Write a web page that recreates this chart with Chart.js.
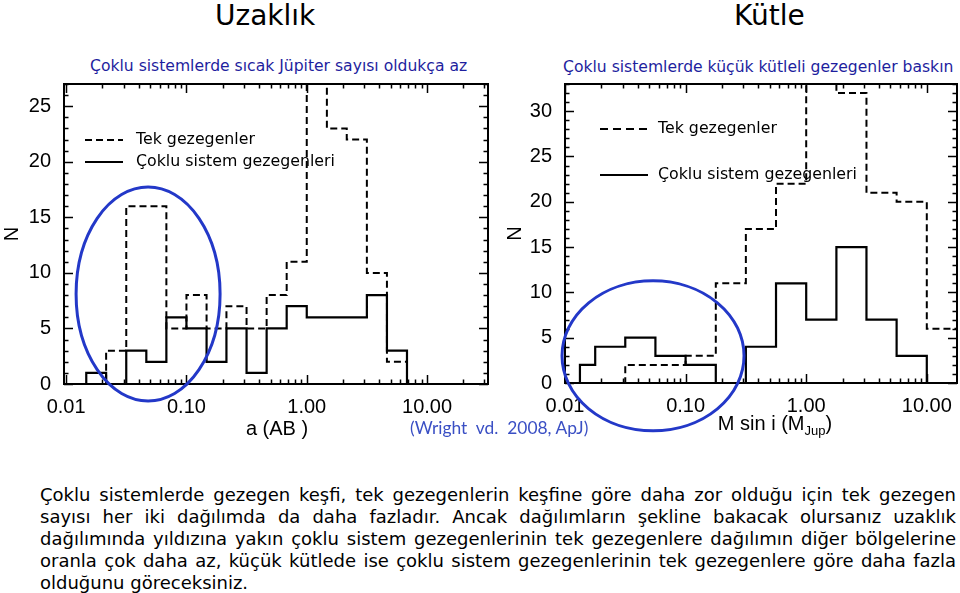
<!DOCTYPE html>
<html><head><meta charset="utf-8">
<script src="https://cdn.jsdelivr.net/npm/chart.js@4.4.0/dist/chart.umd.min.js"></script>
<style>
html,body{margin:0;padding:0;background:#fff;}
body{width:960px;height:593px;position:relative;overflow:hidden;font-family:"DejaVu Sans",sans-serif;color:#000;}
.abs{position:absolute;white-space:nowrap;}
canvas{position:absolute;top:0;}
.title{font-size:28px;line-height:32px;top:0px;}
.sub{font-size:15.6px;line-height:18px;color:#1e1e9e;}
.leg{font-size:15.8px;line-height:18px;}
.ax{font-family:"Liberation Sans",Arial,sans-serif;font-size:20px;line-height:24px;text-align:center;width:240px;}
.ax sub{font-size:13px;vertical-align:-5px;line-height:0;}
#para{position:absolute;left:40px;top:484px;width:916px;font-size:18px;line-height:22px;}
#para div{text-align:justify;text-align-last:justify;white-space:nowrap;}
#para div.last{text-align-last:left;}
</style></head><body>

<div class="abs title" style="left:215px;">Uzaklık</div>
<div class="abs title" style="left:734px;">Kütle</div>
<div class="abs sub" style="left:90px;top:57px;">Çoklu sistemlerde sıcak Jüpiter sayısı oldukça az</div>
<div class="abs sub" style="left:563px;top:58px;">Çoklu sistemlerde küçük kütleli gezegenler baskın</div>

<canvas id="c1" width="500" height="450" style="left:0;"></canvas>
<canvas id="c2" width="460" height="450" style="left:500px;"></canvas>

<svg class="abs" style="left:85px;top:138px;" width="40" height="4"><line x1="0" y1="2" x2="38" y2="2" stroke="#000" stroke-width="2" stroke-dasharray="7 4"/></svg>
<svg class="abs" style="left:85px;top:160px;" width="40" height="4"><line x1="0" y1="2" x2="38" y2="2" stroke="#000" stroke-width="2.2"/></svg>
<div class="abs leg" style="left:136px;top:130px;">Tek gezegenler</div>
<div class="abs leg" style="left:136px;top:152px;">Çoklu sistem gezegenleri</div>

<svg class="abs" style="left:600px;top:127px;" width="48" height="4"><line x1="0" y1="2" x2="47" y2="2" stroke="#000" stroke-width="2" stroke-dasharray="8 5"/></svg>
<svg class="abs" style="left:600px;top:173px;" width="50" height="4"><line x1="0" y1="2" x2="48" y2="2" stroke="#000" stroke-width="2.2"/></svg>
<div class="abs leg" style="left:658px;top:119px;">Tek gezegenler</div>
<div class="abs leg" style="left:658px;top:165px;">Çoklu sistem gezegenleri</div>

<div class="abs ax" style="left:157px;top:416px;">a (AB )</div>
<div class="abs ax" style="left:655px;top:411px;">M sin i (M<sub>Jup</sub>)</div>
<div class="abs" style="left:410px;top:417px;font-family:Lato,sans-serif;font-size:17.4px;line-height:21px;color:#3a4fc4;">(Wright&nbsp; vd.&nbsp; 2008, ApJ)</div>

<div id="para">
<div>Çoklu sistemlerde gezegen keşfi, tek gezegenlerin keşfine göre daha zor olduğu için tek gezegen</div>
<div>sayısı her iki dağılımda da daha fazladır. Ancak dağılımların şekline bakacak olursanız uzaklık</div>
<div>dağılımında yıldızına yakın çoklu sistem gezegenlerinin tek gezegenlere dağılımın diğer bölgelerine</div>
<div>oranla çok daha az, küçük kütlede ise çoklu sistem gezegenlerinin tek gezegenlere göre daha fazla</div>
<div class="last">olduğunu göreceksiniz.</div>
</div>

<script>
// ---- data ----
const distEdges  = [0.0147, 0.0215, 0.0316, 0.0464, 0.0681, 0.1, 0.147, 0.215, 0.316, 0.464, 0.681, 1.0, 1.47, 2.15, 3.16, 4.64, 6.81];
const distSingle = [0, 3, 16, 16, 5, 8, 5, 7, 5, 8, 11, 36, 23, 22, 10, 2];
const distMulti  = [1, 0, 3, 2, 6, 5, 2, 5, 1, 5, 7, 6, 6, 6, 8, 3];

const massEdges  = [0.0133, 0.0178, 0.0316, 0.0562, 0.1, 0.178, 0.316, 0.562, 1.0, 1.78, 3.16, 5.62, 10, 17.8];
const massSingle = [0, 0, 2, 2, 3, 11, 17, 22, 40, 32, 21, 20, 6];
const massMulti  = [2, 4, 5, 3, 2, 0, 4, 11, 7, 15, 7, 3, 0];

const xTickValues = [0.01, 0.1, 1, 10];
const xTickLabels = ["0.01", "0.10", "1.00", "10.00"];
const distYTicks  = [0, 5, 10, 15, 20, 25];
const massYTicks  = [0, 5, 10, 15, 20, 25, 30];

// histogram outline points from edges + counts
function histPoints(edges, counts) {
  const pts = [{x: edges[0], y: 0}];
  counts.forEach((c, i) => pts.push({x: edges[i], y: c}));
  const last = edges[edges.length - 1];
  pts.push({x: last, y: counts[counts.length - 1]});
  pts.push({x: last, y: 0});
  return pts;
}

const framePlugin = {
  id: 'frame',
  afterDraw(chart, args, opts) {
    const {ctx, chartArea: a} = chart;
    const x = chart.scales.x, y = chart.scales.y;
    ctx.save();
    ctx.setLineDash([]);
    ctx.strokeStyle = '#000';
    ctx.lineWidth = 2;
    ctx.strokeRect(a.left, a.top, a.right - a.left, a.bottom - a.top);
    ctx.lineWidth = 1.5;
    ctx.beginPath();
    const lo = Math.floor(Math.log10(x.min)), hi = Math.ceil(Math.log10(x.max));
    for (let k = lo; k <= hi; k++) {
      for (let m = 1; m <= 9; m++) {
        const v = m * Math.pow(10, k);
        if (v < x.min || v > x.max) continue;
        const px = Math.round(x.getPixelForValue(v)) + 0.5;
        const len = m === 1 ? 9 : 4.5;
        ctx.moveTo(px, a.bottom); ctx.lineTo(px, a.bottom - len);
        ctx.moveTo(px, a.top); ctx.lineTo(px, a.top + len);
      }
    }
    for (let v = Math.ceil(y.min); v <= y.max; v++) {
      const py = Math.round(y.getPixelForValue(v)) + 0.5;
      const len = v % 5 === 0 ? 9 : 4.5;
      ctx.moveTo(a.left, py); ctx.lineTo(a.left + len, py);
      ctx.moveTo(a.right, py); ctx.lineTo(a.right - len, py);
    }
    ctx.stroke();
    const e = opts.ellipse;
    ctx.strokeStyle = '#2338c8';
    ctx.lineWidth = 3;
    ctx.beginPath();
    ctx.ellipse(x.getPixelForValue(e.x), y.getPixelForValue(e.y), e.rx, e.ry, 0, 0, 2 * Math.PI);
    ctx.stroke();
    ctx.restore();
  }
};

const tickFont = {family: '"Liberation Sans", Arial, sans-serif', size: 20};

function makeChart(id, edges, single, multi, cfg) {
  return new Chart(document.getElementById(id), {
    type: 'scatter',
    data: {
      datasets: [
        {label: 'Tek gezegenler', data: histPoints(edges, single), showLine: true, stepped: 'before',
         borderColor: '#000', borderWidth: 2, borderDash: [7, 4], pointRadius: 0, fill: false},
        {label: 'Çoklu sistem gezegenleri', data: histPoints(edges, multi), showLine: true, stepped: 'before',
         borderColor: '#000', borderWidth: 2.2, pointRadius: 0, fill: false}
      ]
    },
    options: {
      responsive: false, animation: false, devicePixelRatio: 1, events: [],
      layout: {padding: cfg.padding},
      plugins: {legend: {display: false}, tooltip: {enabled: false}, frame: {ellipse: cfg.ellipse}},
      scales: {
        x: {
          type: 'logarithmic', min: cfg.xMin, max: cfg.xMax,
          grid: {display: false}, border: {display: false},
          afterBuildTicks: s => { s.ticks = xTickValues.map(v => ({value: v})); },
          ticks: {autoSkip: false, maxRotation: 0, font: tickFont, color: '#000', padding: 3,
                  callback: (v, i) => xTickLabels[i]},
          afterFit: s => { s.height = 60; }
        },
        y: {
          type: 'linear', min: 0, max: cfg.yMax,
          grid: {display: false}, border: {display: false},
          afterBuildTicks: s => { s.ticks = cfg.yTicks.map(v => ({value: v})); },
          ticks: {font: tickFont, color: '#000', padding: 5, callback: v => String(v)},
          title: {display: true, text: 'N', font: tickFont, color: '#000', padding: {top: cfg.nPad, bottom: 0}},
          afterFit: s => { s.width = cfg.yWidth; }
        }
      }
    },
    plugins: [framePlugin]
  });
}

makeChart('c1', distEdges, distSingle, distMulti, {
  xMin: 0.0096, xMax: 32.1, yMax: 27, yTicks: distYTicks, yWidth: 64, nPad: 0,
  padding: {left: 0, top: 84, right: 12, bottom: 6},
  ellipse: {x: 0.048, y: 8.1, rx: 72, ry: 107}
});
makeChart('c2', massEdges, massSingle, massMulti, {
  xMin: 0.01, xMax: 17.8, yMax: 33, yTicks: massYTicks, yWidth: 65, nPad: 3,
  padding: {left: 0, top: 84, right: 3, bottom: 7},
  ellipse: {x: 0.0537, y: 3, rx: 91, ry: 75}
});
</script>
</body></html>
